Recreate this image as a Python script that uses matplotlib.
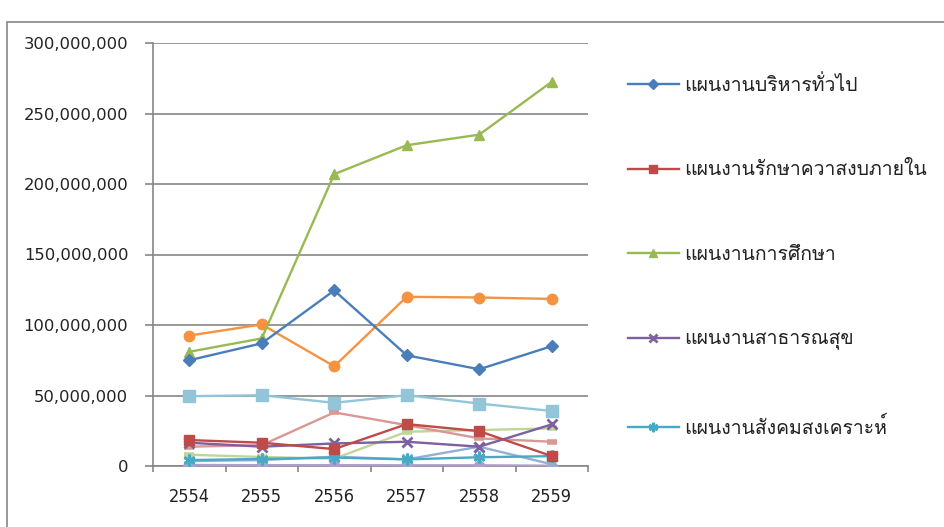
import matplotlib
matplotlib.use("Agg")
import matplotlib.pyplot as plt
from matplotlib import font_manager as fm, ft2font
from matplotlib.ticker import FuncFormatter, FixedLocator
from matplotlib.patches import Rectangle

# ---- data ----
years = ["2554", "2555", "2556", "2557", "2558", "2559"]
s_admin = [75e6, 87e6, 124.5e6, 78.5e6, 68.6e6, 85e6]
s_security = [18.4e6, 16.5e6, 12e6, 29.7e6, 24.7e6, 7e6]
s_education = [81e6, 90.5e6, 207e6, 227.5e6, 235e6, 272.5e6]
s_health = [16.5e6, 13.7e6, 16e6, 17.2e6, 13.7e6, 29.5e6]
s_welfare = [4.2e6, 5e6, 6e6, 4.7e6, 6.2e6, 7e6]
s_orange = [92.5e6, 100.4e6, 70.7e6, 120e6, 119.5e6, 118.5e6]
s_lightblue = [49.5e6, 50.2e6, 44.8e6, 50.2e6, 44.3e6, 39e6]
s_pink = [13.7e6, 14.8e6, 38e6, 29e6, 19.6e6, 17.2e6]
s_lightgreen = [8e6, 6.4e6, 5.2e6, 24.3e6, 25.5e6, 26.7e6]
s_paleblue = [3.5e6, 4.2e6, 6.6e6, 4.7e6, 13.7e6, 1.2e6]
s_lavender = [0.7e6, 0.6e6, 0.6e6, 0.5e6, 0.5e6, 0.2e6]

legend_labels = ["แผนงานบริหารทั่วไป", "แผนงานรักษาควาสงบภายใน", "แผนงานการศึกษา",
                 "แผนงานสาธารณสุข", "แผนงานสังคมสงเคราะห์"]

# ---- fonts: find something that covers Thai ----
thai_fams = []
for f in fm.fontManager.ttflist:
    try:
        cm = ft2font.FT2Font(f.fname).get_charmap()
        if 0x0E41 in cm and 0x0E1C in cm and f.name not in thai_fams:
            thai_fams.append(f.name)
    except Exception:
        pass
fam = thai_fams + ["DejaVu Sans"]
plt.rcParams["font.family"] = fam

W, H = 944, 527
fig = plt.figure(figsize=(W / 100, H / 100), dpi=100)
fig.patch.set_facecolor("white")

# outer chart border (partially visible)
fig.add_artist(Rectangle((7 / W, -0.5), 2.0, 0.5 + (H - 22) / H, transform=fig.transFigure,
                         fill=False, edgecolor="#868686", lw=1.2))

ax = fig.add_axes([153 / W, (H - 466) / H, (588 - 153) / W, (466 - 43) / H])
x = list(range(len(years)))

series = [
    (s_admin, "#4A7EBB", "D", 6.5),
    (s_security, "#BE4B48", "s", 7),
    (s_education, "#98B954", "^", 7.5),
    (s_health, "#7D60A0", "x", 7.5),
    (s_welfare, "#46AAC5", (6, 2, 0), 8.5),
    (s_orange, "#F69240", "o", 7.5),
    (s_lightblue, "#93C5D8", "s", 8),
    (s_pink, "#D99795", "_", 7),
    (s_lightgreen, "#C0D597", "_", 7),
    (s_paleblue, "#94AFD6", "x", 7.5),
    (s_lavender, "#AE9ECB", "D", 6.5),
]
handles = []
for i, (vals, col, mk, ms) in enumerate(series):
    mew = 2 if mk == "x" or isinstance(mk, tuple) else 1
    if mk == "_":
        mew = 4
    ln, = ax.plot(x, vals, color=col, lw=1.7, marker=mk, ms=ms, mfc=col, mec=col,
                  mew=mew, zorder=3 + (len(series) - i) * 0.01, solid_joinstyle="round")
    handles.append(ln)

ax.set_ylim(0, 300e6)
ax.set_xlim(-0.5, len(years) - 0.5)
ax.yaxis.set_major_locator(FixedLocator([i * 50e6 for i in range(7)]))
ax.yaxis.set_major_formatter(FuncFormatter(lambda v, p: f"{int(v):,}"))
ax.grid(axis="y", color="#868686", lw=1.2, zorder=0)
ax.set_axisbelow(True)

ax.set_xticks([i - 0.5 for i in range(len(years) + 1)])
ax.set_xticklabels([])
ax.set_xticks(x, minor=True)
ax.set_xticklabels(years, minor=True, fontsize=13, color="#222222",
                   fontstretch="condensed", family=["DejaVu Sans"])
ax.tick_params(axis="x", which="minor", length=0, pad=16)
ax.tick_params(axis="x", which="major", length=4.3, width=1.2, color="#868686")
ax.tick_params(axis="y", length=5.8, width=1.2, color="#868686", pad=12,
               labelsize=11.8, labelcolor="#222222")
for lab in ax.get_yticklabels():
    lab.set_family(["DejaVu Sans"])

for s in ("top", "right"):
    ax.spines[s].set_visible(False)
for s in ("left", "bottom"):
    ax.spines[s].set_color("#868686")
    ax.spines[s].set_linewidth(1.2)

# legend (first five entries)
leg = fig.legend(handles[:5], legend_labels, loc="upper left",
                 bbox_to_anchor=(628 / W, (H - 75) / H), frameon=False,
                 fontsize=14, labelspacing=3.42, handlelength=2.6, handletextpad=0.29,
                 borderpad=0, borderaxespad=0, markerscale=0.8)
for t in leg.get_texts():
    t.set_color("#222222")

fig.savefig("out.png", dpi=100, facecolor="white")
